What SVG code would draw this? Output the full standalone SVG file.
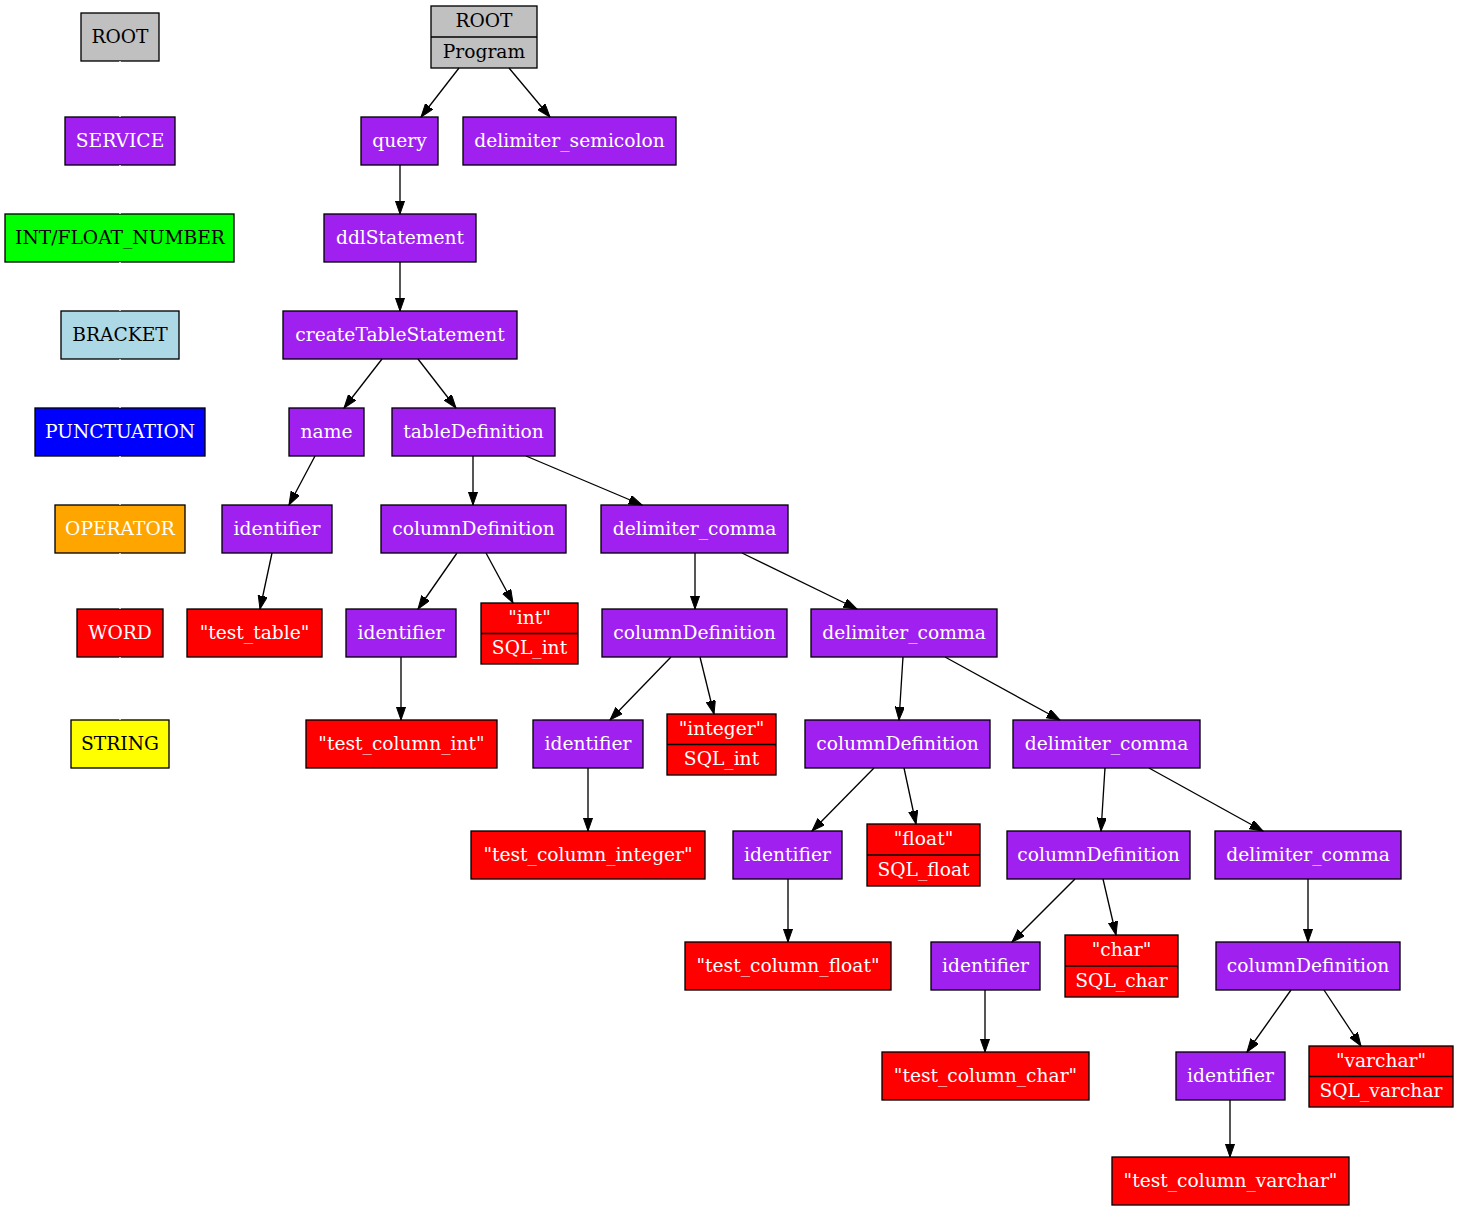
<svg xmlns="http://www.w3.org/2000/svg" width="1459" height="1211" viewBox="0 0 1459 1211">
<style>
rect, line.sep { stroke:#000; stroke-width:1.33; }
.p { fill:#a020f0; } .r { fill:#ff0000; } .g { fill:#c0c0c0; } .gr { fill:#00ff00; }
.lb { fill:#add8e6; } .bl { fill:#0000ff; } .o { fill:#ffa500; } .y { fill:#ffff00; }
text { font-family:"DejaVu Serif","Liberation Serif",serif; font-size:18.67px; text-anchor:middle; }
.w { fill:#fff; } .k { fill:#000; }
#edges line { stroke:#000; stroke-width:1.33; marker-end:url(#ah); }
#legend-edges line { stroke:#fff; stroke-width:1.33; }
</style>
<defs>
<marker id="ah" markerUnits="userSpaceOnUse" viewBox="0 0 14 10" refX="13.3" refY="4.67" markerWidth="14" markerHeight="10" orient="auto">
<path d="M0,0 L13.3,4.67 L0,9.33 z" fill="#000" stroke="#000" stroke-width="1"/>
</marker>
</defs>
<rect x="0" y="0" width="1459" height="1211" fill="#fff" style="stroke:none"/>

<!-- Legend -->
<g id="leg-root"><rect class="g" x="81" y="13" width="78" height="48"/><text class="k" x="120" y="43">ROOT</text></g>
<g id="leg-service"><rect class="p" x="65" y="117" width="110" height="48"/><text class="w" x="120" y="147">SERVICE</text></g>
<g id="leg-number"><rect class="gr" x="5" y="214" width="229" height="48"/><text class="k" x="120" y="244">INT/FLOAT_NUMBER</text></g>
<g id="leg-bracket"><rect class="lb" x="61" y="311" width="118" height="48"/><text class="k" x="120" y="341">BRACKET</text></g>
<g id="leg-punct"><rect class="bl" x="35" y="408" width="170" height="48"/><text class="w" x="120" y="438">PUNCTUATION</text></g>
<g id="leg-operator"><rect class="o" x="55" y="505" width="130" height="48"/><text class="w" x="120" y="535">OPERATOR</text></g>
<g id="leg-word"><rect class="r" x="77" y="609" width="86" height="48"/><text class="w" x="120" y="639">WORD</text></g>
<g id="leg-string"><rect class="y" x="71" y="720" width="98" height="48"/><text class="k" x="120" y="750">STRING</text></g>

<g id="legend-edges">
<line x1="120" y1="61" x2="120" y2="117"/>
<line x1="120" y1="165" x2="120" y2="214"/>
<line x1="120" y1="262" x2="120" y2="311"/>
<line x1="120" y1="359" x2="120" y2="408"/>
<line x1="120" y1="456" x2="120" y2="505"/>
<line x1="120" y1="553" x2="120" y2="609"/>
<line x1="120" y1="657" x2="120" y2="720"/>
</g>

<!-- Tree nodes -->
<g id="n-root"><rect class="g" x="431" y="6" width="106" height="62"/><line class="sep" x1="431" y1="37" x2="537" y2="37"/><text class="k" x="484" y="26.5">ROOT</text><text class="k" x="484" y="57.5">Program</text></g>
<g id="n-query"><rect class="p" x="361" y="117" width="77" height="48"/><text class="w" x="399.5" y="147">query</text></g>
<g id="n-semicolon"><rect class="p" x="463" y="117" width="213" height="48"/><text class="w" x="569.5" y="147">delimiter_semicolon</text></g>
<g id="n-ddl"><rect class="p" x="324" y="214" width="152" height="48"/><text class="w" x="400" y="244">ddlStatement</text></g>
<g id="n-cts"><rect class="p" x="283" y="311" width="234" height="48"/><text class="w" x="400" y="341">createTableStatement</text></g>
<g id="n-name"><rect class="p" x="289" y="408" width="75" height="48"/><text class="w" x="326.5" y="438">name</text></g>
<g id="n-tdef"><rect class="p" x="392" y="408" width="163" height="48"/><text class="w" x="473.5" y="438">tableDefinition</text></g>
<g id="n-id1"><rect class="p" x="222" y="505" width="110" height="48"/><text class="w" x="277" y="535">identifier</text></g>
<g id="n-cd1"><rect class="p" x="381" y="505" width="185" height="48"/><text class="w" x="473.5" y="535">columnDefinition</text></g>
<g id="n-dc1"><rect class="p" x="601" y="505" width="187" height="48"/><text class="w" x="694.5" y="535">delimiter_comma</text></g>
<g id="n-tt"><rect class="r" x="187" y="609" width="135" height="48"/><text class="w" x="254.5" y="639">"test_table"</text></g>
<g id="n-id2"><rect class="p" x="346" y="609" width="110" height="48"/><text class="w" x="401" y="639">identifier</text></g>
<g id="n-int"><rect class="r" x="481" y="603" width="97" height="61"/><line class="sep" x1="481" y1="633.5" x2="578" y2="633.5"/><text class="w" x="529.5" y="623.5">"int"</text><text class="w" x="529.5" y="654">SQL_int</text></g>
<g id="n-cd2"><rect class="p" x="602" y="609" width="185" height="48"/><text class="w" x="694.5" y="639">columnDefinition</text></g>
<g id="n-dc2"><rect class="p" x="811" y="609" width="186" height="48"/><text class="w" x="904" y="639">delimiter_comma</text></g>
<g id="n-tci"><rect class="r" x="306" y="720" width="191" height="48"/><text class="w" x="401.5" y="750">"test_column_int"</text></g>
<g id="n-id3"><rect class="p" x="533" y="720" width="110" height="48"/><text class="w" x="588" y="750">identifier</text></g>
<g id="n-integer"><rect class="r" x="667" y="714" width="109" height="61"/><line class="sep" x1="667" y1="744.5" x2="776" y2="744.5"/><text class="w" x="721.5" y="734.5">"integer"</text><text class="w" x="721.5" y="765">SQL_int</text></g>
<g id="n-cd3"><rect class="p" x="805" y="720" width="185" height="48"/><text class="w" x="897.5" y="750">columnDefinition</text></g>
<g id="n-dc3"><rect class="p" x="1013" y="720" width="187" height="48"/><text class="w" x="1106.5" y="750">delimiter_comma</text></g>
<g id="n-tcinteger"><rect class="r" x="471" y="831" width="234" height="48"/><text class="w" x="588" y="861">"test_column_integer"</text></g>
<g id="n-id4"><rect class="p" x="733" y="831" width="109" height="48"/><text class="w" x="787.5" y="861">identifier</text></g>
<g id="n-float"><rect class="r" x="867" y="824" width="113" height="62"/><line class="sep" x1="867" y1="855" x2="980" y2="855"/><text class="w" x="923.5" y="845">"float"</text><text class="w" x="923.5" y="875.5">SQL_float</text></g>
<g id="n-cd4"><rect class="p" x="1007" y="831" width="183" height="48"/><text class="w" x="1098.5" y="861">columnDefinition</text></g>
<g id="n-dc4"><rect class="p" x="1215" y="831" width="186" height="48"/><text class="w" x="1308" y="861">delimiter_comma</text></g>
<g id="n-tcf"><rect class="r" x="685" y="942" width="206" height="48"/><text class="w" x="788" y="972">"test_column_float"</text></g>
<g id="n-id5"><rect class="p" x="931" y="942" width="109" height="48"/><text class="w" x="985.5" y="972">identifier</text></g>
<g id="n-char"><rect class="r" x="1065" y="935" width="113" height="62"/><line class="sep" x1="1065" y1="966" x2="1178" y2="966"/><text class="w" x="1121.5" y="956">"char"</text><text class="w" x="1121.5" y="986.5">SQL_char</text></g>
<g id="n-cd5"><rect class="p" x="1216" y="942" width="184" height="48"/><text class="w" x="1308" y="972">columnDefinition</text></g>
<g id="n-tcc"><rect class="r" x="882" y="1052" width="207" height="48"/><text class="w" x="985.5" y="1082">"test_column_char"</text></g>
<g id="n-id6"><rect class="p" x="1176" y="1052" width="109" height="48"/><text class="w" x="1230.5" y="1082">identifier</text></g>
<g id="n-varchar"><rect class="r" x="1309" y="1046" width="144" height="61"/><line class="sep" x1="1309" y1="1076.5" x2="1453" y2="1076.5"/><text class="w" x="1381" y="1066.5">"varchar"</text><text class="w" x="1381" y="1097">SQL_varchar</text></g>
<g id="n-tcv"><rect class="r" x="1112" y="1157" width="237" height="48"/><text class="w" x="1230.5" y="1187">"test_column_varchar"</text></g>

<g id="edges">
<line x1="459" y1="68" x2="421" y2="117"/>
<line x1="509" y1="68" x2="550" y2="117"/>
<line x1="400" y1="165" x2="400" y2="214"/>
<line x1="400" y1="262" x2="400" y2="311"/>
<line x1="382" y1="359" x2="344" y2="408"/>
<line x1="418" y1="359" x2="456" y2="408"/>
<line x1="315" y1="456" x2="289" y2="505"/>
<line x1="473" y1="456" x2="473" y2="505"/>
<line x1="526" y1="456" x2="642" y2="505"/>
<line x1="272" y1="553" x2="260" y2="609"/>
<line x1="457" y1="553" x2="418" y2="609"/>
<line x1="486" y1="553" x2="513" y2="603"/>
<line x1="695" y1="553" x2="695" y2="609"/>
<line x1="742" y1="553" x2="857" y2="609"/>
<line x1="401" y1="657" x2="401" y2="720"/>
<line x1="671" y1="657" x2="610" y2="720"/>
<line x1="700" y1="657" x2="714" y2="714"/>
<line x1="903" y1="657" x2="899" y2="720"/>
<line x1="945" y1="657" x2="1060" y2="720"/>
<line x1="588" y1="768" x2="588" y2="831"/>
<line x1="874" y1="768" x2="812" y2="831"/>
<line x1="904" y1="768" x2="916" y2="824"/>
<line x1="1105" y1="768" x2="1101" y2="831"/>
<line x1="1149" y1="768" x2="1263" y2="831"/>
<line x1="788" y1="879" x2="788" y2="942"/>
<line x1="1075" y1="879" x2="1012" y2="942"/>
<line x1="1103" y1="879" x2="1116" y2="935"/>
<line x1="1308" y1="879" x2="1308" y2="942"/>
<line x1="985" y1="990" x2="985" y2="1052"/>
<line x1="1291" y1="990" x2="1247" y2="1052"/>
<line x1="1324" y1="990" x2="1361" y2="1046"/>
<line x1="1230" y1="1100" x2="1230" y2="1157"/>
</g>
</svg>
